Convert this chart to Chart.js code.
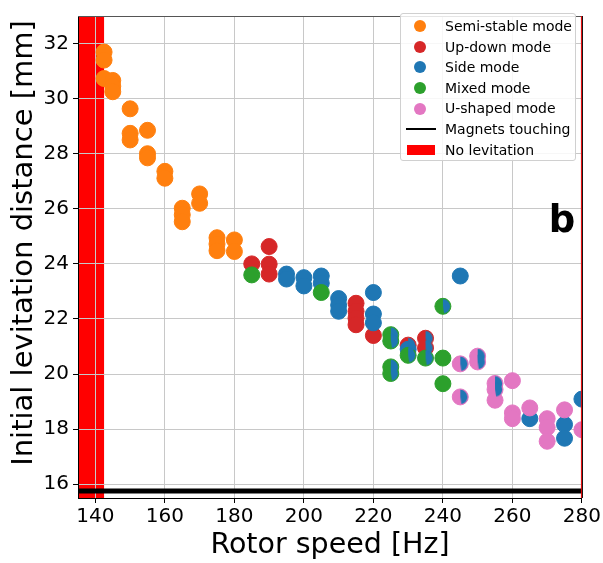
<!DOCTYPE html>
<html>
<head>
<meta charset="utf-8">
<script src="https://cdn.jsdelivr.net/npm/chart.js@4.4.1/dist/chart.umd.min.js"></script>
<style>
  body { margin: 0; background: #fff; }
  #wrap { position: relative; width: 603px; height: 563px; }
  #legend {
    position: absolute; left: 400px; top: 13px; width: 176px; height: 148px;
    background: rgba(255,255,255,0.85); border: 1px solid #d0d0d0; border-radius: 3px;
    font-family: 'DejaVu Sans', sans-serif; font-size: 14px; color: #000;
    padding-top: 2px; box-sizing: border-box;
  }
  .row { position: relative; height: 20.6px; line-height: 20.6px; padding-left: 44px; white-space: nowrap; }
  .mk { position: absolute; left: 12px; top: 50%; transform: translateY(-50%); }
  .dot { left: 13px; width: 12px; height: 12px; border-radius: 50%; }
  .ln { left: 5px; width: 30px; height: 2px; background: #000; }
  .box { left: 6px; width: 28px; height: 10px; background: #ff0000; }
</style>
</head>
<body>
<div id="wrap">
  <canvas id="chart" width="603" height="563"></canvas>
  <div id="legend"></div>
</div>
<script>
// [rotor speed Hz, initial distance mm]
const semiStable = [
  [142.5, 31.69], [142.5, 31.4], [142.5, 30.73],
  [145, 30.66], [145, 30.45], [145, 30.25],
  [150, 29.63], [150, 28.74], [150, 28.5],
  [155, 28.85], [155, 28.0], [155, 27.85],
  [160, 27.36], [160, 27.11],
  [165, 26.02], [165, 25.78], [165, 25.53],
  [170, 26.54], [170, 26.2],
  [175, 24.95], [175, 24.72], [175, 24.48],
  [180, 24.87], [180, 24.45]
];
const upDown = [
  [185, 24.0],
  [190, 24.63], [190, 23.99], [190, 23.63],
  [215, 22.57], [215, 22.28], [215, 22.03], [215, 21.79],
  [220, 21.4],
  [230, 21.05],
  [235, 21.3], [235, 20.95]
];
const sideMode = [
  [195, 23.63], [195, 23.45],
  [200, 23.5], [200, 23.2],
  [205, 23.56], [205, 23.3],
  [210, 22.74], [210, 22.5], [210, 22.28],
  [220, 22.96], [220, 22.18], [220, 21.86],
  [230, 20.9],
  [245, 23.56],
  [265, 18.38],
  [275, 18.17], [275, 17.67],
  [280, 19.09]
];
const mixedMode = [
  [185, 23.6],
  [205, 22.96],
  [225, 21.43], [225, 21.2], [225, 20.26], [225, 20.02],
  [230, 20.68],
  [235, 20.58],
  [240, 22.46], [240, 20.58], [240, 19.65]
];
const uShaped = [
  [245, 20.37], [245, 19.17],
  [250, 20.65], [250, 20.44],
  [255, 19.66], [255, 19.44], [255, 19.05],
  [260, 19.76], [260, 18.59], [260, 18.38],
  [265, 18.77],
  [270, 18.38], [270, 18.06], [270, 17.56],
  [275, 18.7],
  [280, 17.98]
];
// points that were also seen in side mode (drawn as a blue wedge on top)
const alsoSide = [
  [225, 21.43], [225, 21.2], [225, 20.26], [225, 20.02],
  [230, 21.05], [230, 20.68],
  [235, 21.3], [235, 20.95], [235, 20.58],
  [240, 22.46],
  [245, 20.37], [245, 19.17],
  [250, 20.65], [250, 20.44],
  [255, 19.66], [255, 19.44]
];
const touchingDistance = 15.75;
const noLevitation = [135, 142.5];

const xTicks = [140, 160, 180, 200, 220, 240, 260, 280];
const yTicks = [16, 18, 20, 22, 24, 26, 28, 30, 32];
const yTitle = 'Initial levitation distance [mm]';

const ORANGE = '#ff7f0e', RED = '#d62728', BLUE = '#1f77b4', GREEN = '#2ca02c', PINK = '#e377c2';

Chart.defaults.font.family = "'DejaVu Sans', sans-serif";
Chart.defaults.color = '#000';

function pts(arr) { return arr.map(p => ({ x: p[0], y: p[1] })); }

function wedgeMarker(color) {
  const c = document.createElement('canvas');
  c.width = 18; c.height = 18;
  const g = c.getContext('2d');
  g.fillStyle = color;
  g.beginPath();
  g.moveTo(9, 9);
  g.arc(9, 9, 7.2, -Math.PI / 2, Math.PI * 0.45);
  g.closePath();
  g.fill();
  return c;
}

function scatterSet(label, arr, color, order) {
  return {
    label: label, data: pts(arr), order: order,
    backgroundColor: color, borderColor: color, borderWidth: 1,
    pointRadius: 8, pointHoverRadius: 8, clip: 0
  };
}

const bgPlugin = {
  id: 'bg',
  beforeDraw(chart) {
    const { ctx, chartArea, scales } = chart;
    const x0 = scales.x.getPixelForValue(noLevitation[0]);
    const x1 = scales.x.getPixelForValue(noLevitation[1]);
    ctx.save();
    ctx.fillStyle = '#ff0000';
    ctx.fillRect(x0, chartArea.top, x1 - x0, chartArea.bottom - chartArea.top);
    ctx.restore();
  },
  afterDraw(chart) {
    const { ctx, chartArea } = chart;
    ctx.save();
    ctx.strokeStyle = '#555';
    ctx.lineWidth = 1;
    ctx.beginPath();
    ctx.moveTo(chartArea.left, chartArea.top + 0.5);
    ctx.lineTo(chartArea.right, chartArea.top + 0.5);
    ctx.stroke();
    ctx.strokeStyle = '#ff0000';
    ctx.beginPath();
    ctx.moveTo(chartArea.right - 0.5, chartArea.top);
    ctx.lineTo(chartArea.right - 0.5, chartArea.bottom);
    ctx.stroke();
    ctx.strokeStyle = '#000';
    ctx.beginPath();
    ctx.moveTo(chartArea.right + 0.5, chartArea.top);
    ctx.lineTo(chartArea.right + 0.5, chartArea.bottom);
    ctx.stroke();
    ctx.fillStyle = '#000';
    ctx.font = "bold 37px 'DejaVu Sans'";
    ctx.textAlign = 'center';
    ctx.textBaseline = 'alphabetic';
    ctx.fillText('b', 562, 232);
    // y axis title
    ctx.translate(32, 243);
    ctx.rotate(-Math.PI / 2);
    ctx.font = "29px 'DejaVu Sans'";
    ctx.fillText(yTitle, 0, 0);
    ctx.restore();
  }
};

const chart = new Chart(document.getElementById('chart'), {
  type: 'scatter',
  data: {
    datasets: [
      scatterSet('Semi-stable mode', semiStable, ORANGE, 7),
      scatterSet('Up-down mode', upDown, RED, 6),
      scatterSet('Side mode', sideMode, BLUE, 5),
      scatterSet('Mixed mode', mixedMode, GREEN, 4),
      scatterSet('U-shaped mode', uShaped, PINK, 3),
      {
        label: 'side part', data: pts(alsoSide), order: 2,
        pointStyle: wedgeMarker(BLUE), pointRadius: 8, clip: 0
      },
      {
        label: 'Magnets touching', type: 'line', order: 1,
        data: [{ x: 135, y: touchingDistance }, { x: 280, y: touchingDistance }],
        borderColor: '#000', borderWidth: 5, pointRadius: 0, showLine: true
      }
    ]
  },
  plugins: [bgPlugin],
  options: {
    responsive: false,
    animation: false,
    events: [],
    layout: { padding: { top: 7, right: 20, left: 0, bottom: 0 } },
    plugins: { legend: { display: false }, tooltip: { enabled: false } },
    scales: {
      x: {
        type: 'linear', min: 135, max: 280,
        afterBuildTicks: s => { s.ticks = xTicks.map(v => ({ value: v })); },
        afterFit: s => { s.height = 65; },
        grid: { color: '#c8c8c8', tickColor: '#000', tickLength: 5, lineWidth: 1 },
        border: { color: '#000', width: 1 },
        ticks: { font: { size: 20 }, color: '#000', padding: 2, maxRotation: 0 },
        title: { display: true, text: 'Rotor speed [Hz]', font: { size: 28.5 }, color: '#000', padding: 0 }
      },
      y: {
        type: 'linear', min: 15.5, max: 33,
        afterBuildTicks: s => { s.ticks = yTicks.map(v => ({ value: v })); },
        afterFit: s => { s.width = 78; },
        grid: { color: '#c8c8c8', tickColor: '#000', tickLength: 5, lineWidth: 1 },
        border: { color: '#000', width: 1 },
        ticks: { font: { size: 20 }, color: '#000', padding: 4 },
        title: { display: false }
      }
    }
  }
});

// legend in the upper right of the plot
const legendItems = [
  ['dot', ORANGE, 'Semi-stable mode'],
  ['dot', RED, 'Up-down mode'],
  ['dot', BLUE, 'Side mode'],
  ['dot', GREEN, 'Mixed mode'],
  ['dot', PINK, 'U-shaped mode'],
  ['ln', '#000', 'Magnets touching'],
  ['box', '#ff0000', 'No levitation']
];
const legend = document.getElementById('legend');
legendItems.forEach(item => {
  const row = document.createElement('div');
  row.className = 'row';
  const mk = document.createElement('span');
  mk.className = 'mk ' + item[0];
  mk.style.background = item[1];
  row.appendChild(mk);
  row.appendChild(document.createTextNode(item[2]));
  legend.appendChild(row);
});
</script>
</body>
</html>
